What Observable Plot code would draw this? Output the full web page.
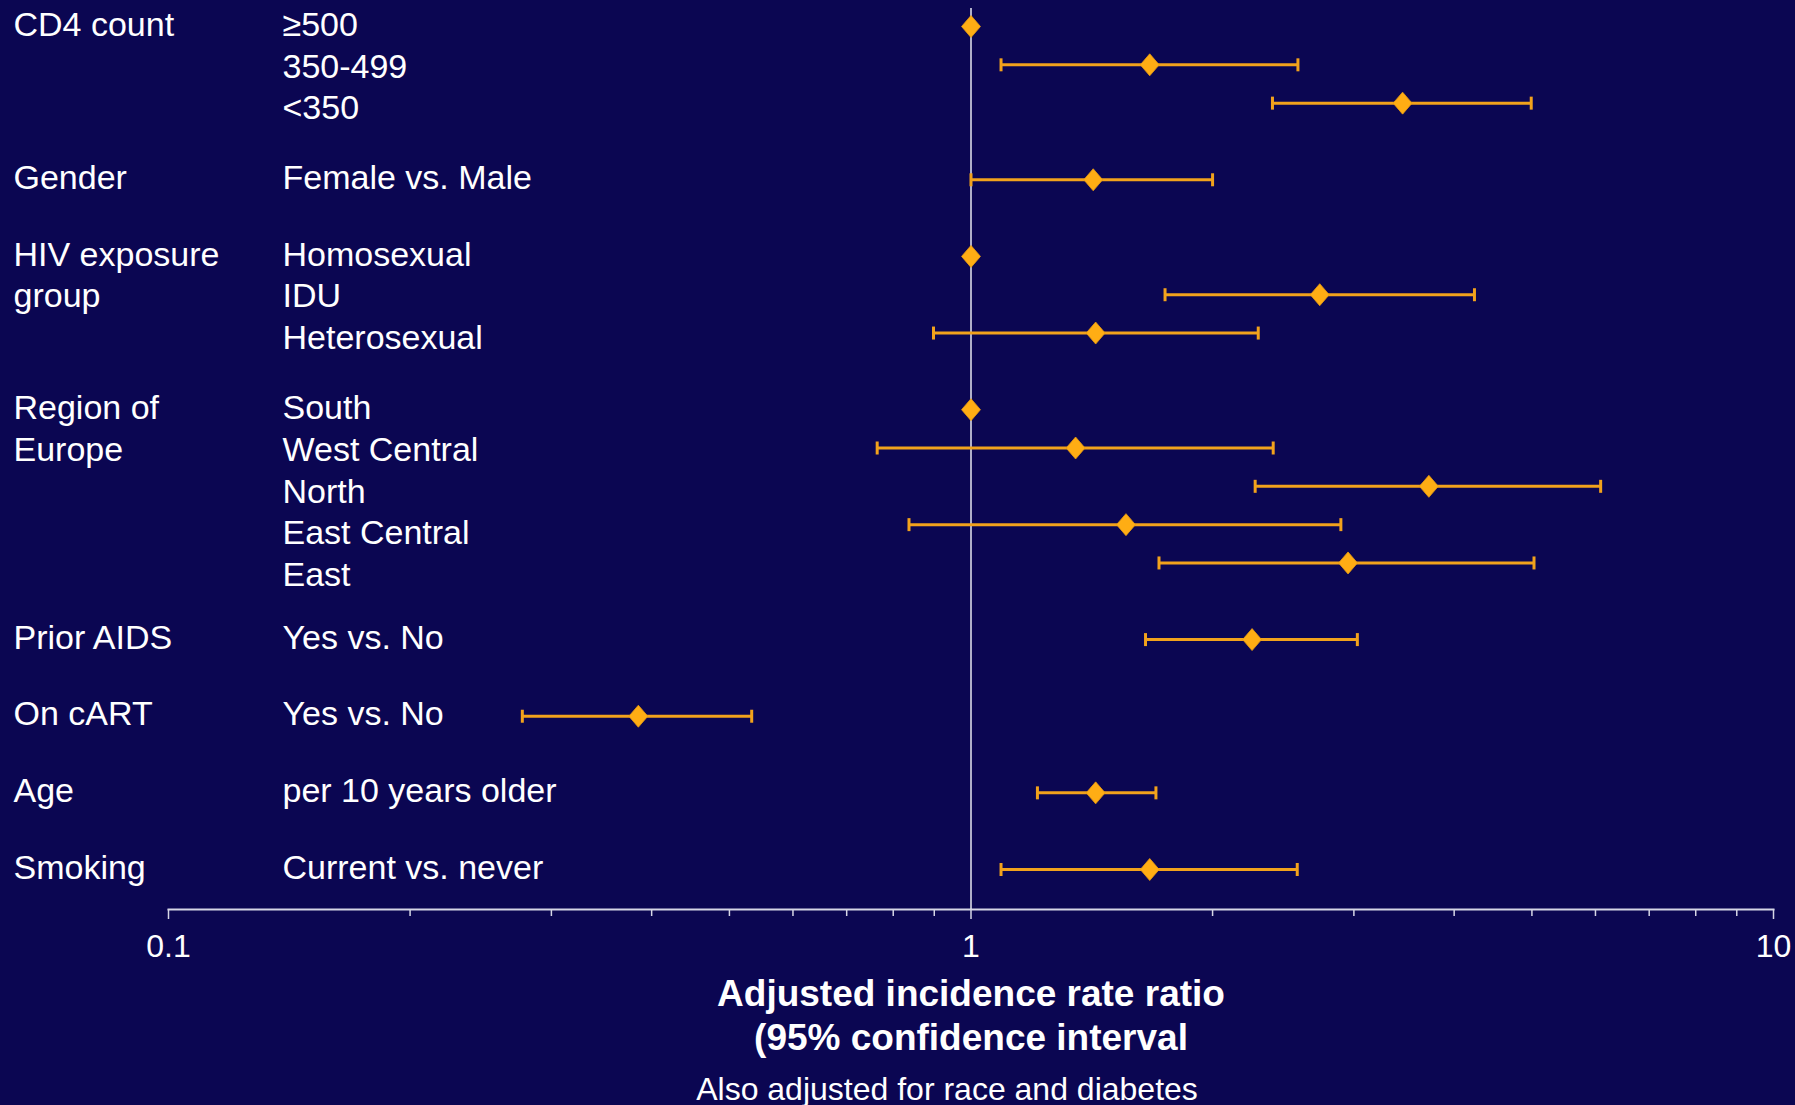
<!DOCTYPE html>
<html>
<head>
<meta charset="utf-8">
<script src="https://cdn.jsdelivr.net/npm/d3@7"></script>
<script src="https://cdn.jsdelivr.net/npm/@observablehq/plot@0.6"></script>
<style>
  html, body { margin: 0; padding: 0; background: #0b0652; }
  body { width: 1795px; height: 1105px; overflow: hidden; font-family: "Liberation Sans", Arial, sans-serif; color: #ffffff; }
  #chart svg { display: block; }
  .title { width: 1795px; box-sizing: border-box; padding-left: 147px; text-align: center; font-weight: bold; font-size: 37px; line-height: 44px; margin-top: 2px; }
  .caption { width: 1795px; box-sizing: border-box; padding-left: 99px; text-align: center; font-size: 32px; line-height: 40px; margin-top: 9px; }
</style>
</head>
<body>
<div id="chart"></div>
<div class="title">Adjusted incidence rate ratio<br>(95% confidence interval</div>
<div class="caption">Also adjusted for race and diabetes</div>
<script>
// ---- data ----
const groupNames = ["CD4 count", "Gender", "HIV exposure\ngroup", "Region of\nEurope", "Prior AIDS", "On cART", "Age", "Smoking"];
const groupSizes = [3, 1, 3, 5, 1, 1, 1, 1];
const levels = ["≥500", "350-499", "<350", "Female vs. Male", "Homosexual", "IDU", "Heterosexual",
  "South", "West Central", "North", "East Central", "East", "Yes vs. No", "Yes vs. No",
  "per 10 years older", "Current vs. never"];
const irr    = [1, 1.67, 3.45, 1.42, 1, 2.72, 1.43, 1, 1.35, 3.72, 1.56, 2.95, 2.24, 0.385, 1.43, 1.67];
const ciLow  = [null, 1.09, 2.375, 1.0, null, 1.745, 0.898, null, 0.764, 2.26, 0.837, 1.715, 1.65, 0.276, 1.21, 1.09];
const ciHigh = [null, 2.555, 4.99, 2.0, null, 4.24, 2.28, null, 2.38, 6.09, 2.89, 5.03, 3.03, 0.533, 1.70, 2.55];
const majorTicks = [0.1, 1, 10];
const minorTicks = [0.2, 0.3, 0.4, 0.5, 0.6, 0.7, 0.8, 0.9, 2, 3, 4, 5, 6, 7, 8, 9];

// ---- build tables ----
const rows = [];
const groups = [];
let r = 0, i = 0;
groupSizes.forEach((n, g) => {
  groups.push({label: groupNames[g], row: r, levels: levels.slice(i, i + n).join("\n")});
  for (let k = 0; k < n; ++k, ++i, ++r) {
    rows.push({level: levels[i], irr: irr[i], lo: ciLow[i], hi: ciHigh[i], row: r});
  }
  r++; // blank row between groups
});
const withCI = rows.filter(d => d.lo != null);

// ---- symbols ----
const diamond = {draw(ctx, size) { const s = Math.sqrt(size / Math.PI); const w = s * 0.86;
  ctx.moveTo(0, -s); ctx.lineTo(w, 0); ctx.lineTo(0, s); ctx.lineTo(-w, 0); ctx.closePath(); }};
const cap = {draw(ctx, size) { const s = Math.sqrt(size / Math.PI); ctx.moveTo(0, -s); ctx.lineTo(0, s); }};

const orange = "#ffad14";
const barOrange = "#f2a21c";
const axisColor = "#d6d6e6";
const labelSize = 34;
const lh = 1.23;
const labelDy = -((0.71 * lh - 0.36) * labelSize) - 3;

const chart = Plot.plot({
  width: 1795,
  height: 970,
  marginLeft: 168,
  marginRight: 22,
  marginTop: 8,
  marginBottom: 61,
  style: {background: "transparent", color: "#ffffff", fontFamily: "'Liberation Sans', Arial, sans-serif", fontSize: "32px", overflow: "visible"},
  x: {type: "log", domain: [0.1, 10]},
  y: {domain: [0, 22], reverse: true, insetTop: 18, insetBottom: 40, axis: null},
  marks: [
    Plot.frame({anchor: "bottom", stroke: axisColor, strokeWidth: 2}),
    Plot.ruleX([1], {stroke: "#e8e8f2", strokeWidth: 1.5}),
    Plot.axisX({ticks: minorTicks, tickSize: 7, tickFormat: () => "", stroke: axisColor, strokeWidth: 1.5, label: null}),
    Plot.axisX({ticks: majorTicks, tickSize: 10, tickPadding: 15, tickFormat: d3.format("~g"), stroke: axisColor, fill: "#ffffff", strokeWidth: 1.5, fontSize: 32, label: null}),
    Plot.ruleY(withCI, {y: "row", x1: "lo", x2: "hi", stroke: barOrange, strokeWidth: 3}),
    Plot.dot(withCI, {x: "lo", y: "row", symbol: cap, r: 6.5, fill: "none", stroke: barOrange, strokeWidth: 3}),
    Plot.dot(withCI, {x: "hi", y: "row", symbol: cap, r: 6.5, fill: "none", stroke: barOrange, strokeWidth: 3}),
    Plot.dot(rows, {x: "irr", y: "row", symbol: diamond, r: 11, fill: orange, stroke: "#e89a10", strokeWidth: 0.8}),
    Plot.text(groups, {y: "row", text: "label", frameAnchor: "left", dx: -155, dy: labelDy, textAnchor: "start", lineAnchor: "top", lineHeight: lh, fontSize: labelSize, fill: "#ffffff"}),
    Plot.text(groups, {y: "row", text: "levels", frameAnchor: "left", dx: 114, dy: labelDy, textAnchor: "start", lineAnchor: "top", lineHeight: lh, fontSize: labelSize, fill: "#ffffff"})
  ]
});
document.getElementById("chart").appendChild(chart);
</script>
</body>
</html>
